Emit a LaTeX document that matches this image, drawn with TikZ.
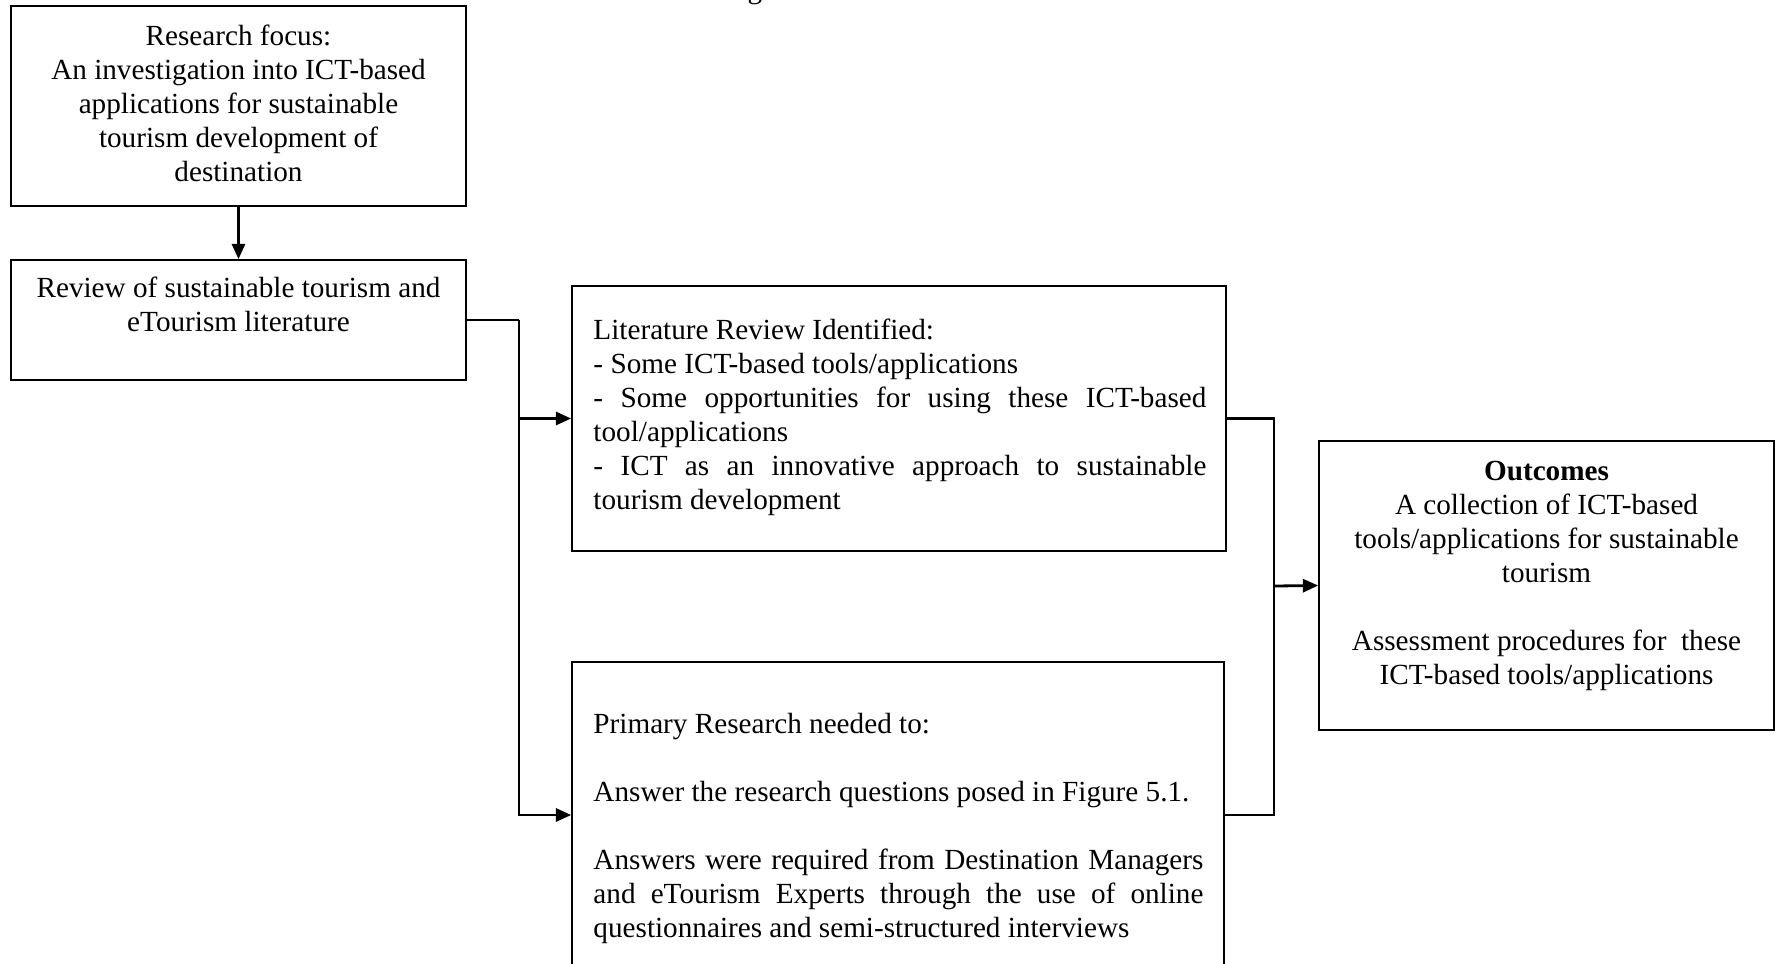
\documentclass[tikz,border=0pt]{standalone}
\usepackage{fontspec}
\setmainfont{Liberation Serif}
\usetikzlibrary{arrows.meta,fit}
% a line whose interword spaces are stretched to a given width
\newcommand{\jline}[2]{\leavevmode\hbox to #1{\spaceskip=0pt\xspaceskip=0pt #2}}
\begin{document}
\begin{tikzpicture}[x=0.411pt,y=-0.411pt,
  box/.style={draw, line width=0.7pt, inner sep=0pt},
  link/.style={line width=1.15pt},
  arr/.style={link, -{Triangle[length=6.3pt,width=5.4pt]}},
  % rigid interword spaces of the font's own natural width
  txt/.style={inner sep=0pt, font=\fontsize{12}{14}\selectfont,
    execute at begin node={\spaceskip=\fontdimen2\font\xspaceskip=\fontdimen2\font}},
]
\useasboundingbox (0,0) rectangle (1775,963);
\clip (0,0) rectangle (1775,963);

% descender of the caption line above
\node[txt, anchor=base] (capfrag) at (755,-1.5) {g};

% boxes
\node[box, fit={(11,6)(466,206)}] (b1) {};
\node[box, fit={(11,260)(466,380)}] (b2) {};
\node[box, fit={(572,286)(1226,551)}] (b3) {};
\node[box, fit={(572,662)(1224,968)}] (b4) {};
\node[box, fit={(1319,441)(1774,730)}] (b5) {};

% box texts
\node[txt, anchor=north, text width=185pt, align=center] (t1) at (238.5,21)
  {\strut Research focus:\\ An investigation into ICT-based\\ applications for sustainable\\ tourism development of\\ destination};
\node[txt, anchor=north, text width=185pt, align=center] (t2) at (238.5,273)
  {\strut Review of sustainable tourism and\\ eTourism literature};
\node[txt, anchor=north west, text width=252pt, align=left] (t3) at (593,315)
  {\strut Literature Review Identified:\\
   - Some ICT-based tools/applications\\
   \jline{251.9pt}{- Some opportunities for using these ICT-based}\\
   tool/applications\\
   \jline{251.9pt}{- ICT as an innovative approach to sustainable}\\
   tourism development};
\node[txt, anchor=north west, text width=251pt, align=left] (t4) at (593,709)
  {\strut Primary Research needed to:\\[14pt]
   \mbox{Answer the research questions posed in Figure 5.1.}\\[14pt]
   \jline{250.7pt}{Answers were required from Destination Managers}\\
   \jline{250.7pt}{and eTourism Experts through the use of online}\\
   questionnaires and semi-structured interviews};
\node[txt, anchor=north, text width=185pt, align=center] (t5) at (1546.5,456)
  {\strut\textbf{Outcomes}\\ A collection of ICT-based\\ tools/applications for sustainable\\ tourism\\[14pt]
   Assessment procedures for\ \ these\\ ICT-based tools/applications};

% connectors
\coordinate (j1) at (519,320);
\coordinate (j2) at (1274,586);
\draw[arr] (b1.south) -- (b2.north);
\draw[link] (b2.east) -- (j1);
\draw[arr] (j1) |- (b3.west);
\draw[arr] (j1) |- (b4.west);
\draw[link] (b3.east) -| (j2);
\draw[link] (b4.east) -| (j2);
\draw[arr] (j2) -- (b5.west);
\end{tikzpicture}
\end{document}
